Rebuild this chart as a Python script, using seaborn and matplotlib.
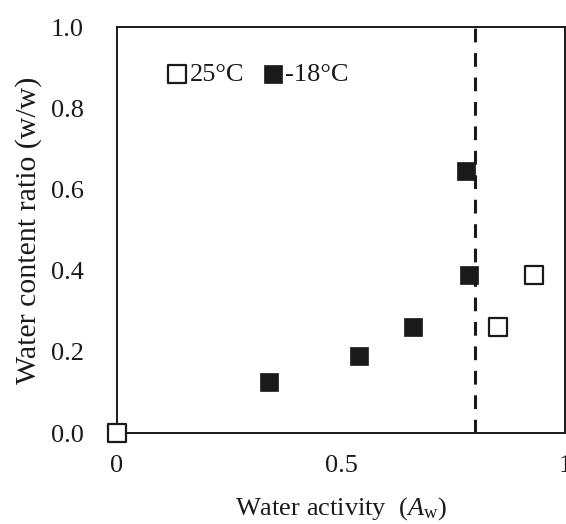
import matplotlib
matplotlib.use("Agg")
import matplotlib.pyplot as plt
import seaborn as sns
import pandas as pd

# Data
aw_25 = [0.0, 0.85, 0.93]
wc_25 = [0.0, 0.26, 0.39]
aw_m18 = [0.34, 0.54, 0.66, 0.785, 0.78]
wc_m18 = [0.125, 0.19, 0.26, 0.39, 0.645]
labels = ["25°C", "-18°C"]
xticks = [0, 0.5, 1]
xticklabels = ["0", "0.5", "1"]
yticks = [0.0, 0.2, 0.4, 0.6, 0.8, 1.0]
vline_x = 0.8

sns.set_style("white")
plt.rcParams['font.family'] = ['Liberation Serif', 'DejaVu Serif']
plt.rcParams['mathtext.fontset'] = 'custom'
plt.rcParams['mathtext.it'] = 'Liberation Serif:italic'
plt.rcParams['mathtext.rm'] = 'Liberation Serif'

INK = "#1a1a1a"
FS = 19

fig = plt.figure(figsize=(5.66, 5.24), dpi=100)
ax = fig.add_axes([117/566, 1 - 433/524, 448/566, 406/524])

df25 = pd.DataFrame({"aw": aw_25, "wc": wc_25})
df18 = pd.DataFrame({"aw": aw_m18, "wc": wc_m18})

ax.axvline(vline_x, color=INK, lw=2.2, ls=(0, (4.5, 3.5)), zorder=1)

sns.scatterplot(data=df25, x="aw", y="wc", ax=ax, marker="s", s=165,
                facecolor="white", edgecolor=INK, linewidth=1.6,
                label=labels[0], clip_on=False, zorder=3)
sns.scatterplot(data=df18, x="aw", y="wc", ax=ax, marker="s", s=165,
                color=INK, edgecolor=INK, linewidth=0.5,
                label=labels[1], clip_on=False, zorder=3)

ax.set_xlim(0, 1)
ax.set_ylim(0, 1)
ax.set_xticks(xticks)
ax.set_xticklabels(xticklabels)
ax.set_yticks(yticks)
ax.set_yticklabels([f"{v:.1f}" for v in yticks])
ax.tick_params(axis="both", length=0, labelsize=FS, colors=INK)
ax.tick_params(axis="x", pad=16)
ax.tick_params(axis="y", pad=24)

for sp in ax.spines.values():
    sp.set_visible(True)
    sp.set_color(INK)
    sp.set_linewidth(1.4)

ax.set_xlabel(r"Water activity  ($\mathit{A}_{\mathrm{w}}$)", fontsize=FS, color=INK, labelpad=13)
ax.set_ylabel("Water content ratio (w/w)", fontsize=21.5, color=INK, labelpad=6)

leg = ax.legend(loc="center left", bbox_to_anchor=(0.114, 0.884), ncol=2, frameon=False,
                fontsize=FS, handletextpad=0.13, columnspacing=0.72, borderaxespad=0,
                borderpad=0, handlelength=0.7, markerscale=1.0)
for t in leg.get_texts():
    t.set_color(INK)

fig.savefig("out.png", dpi=100)
